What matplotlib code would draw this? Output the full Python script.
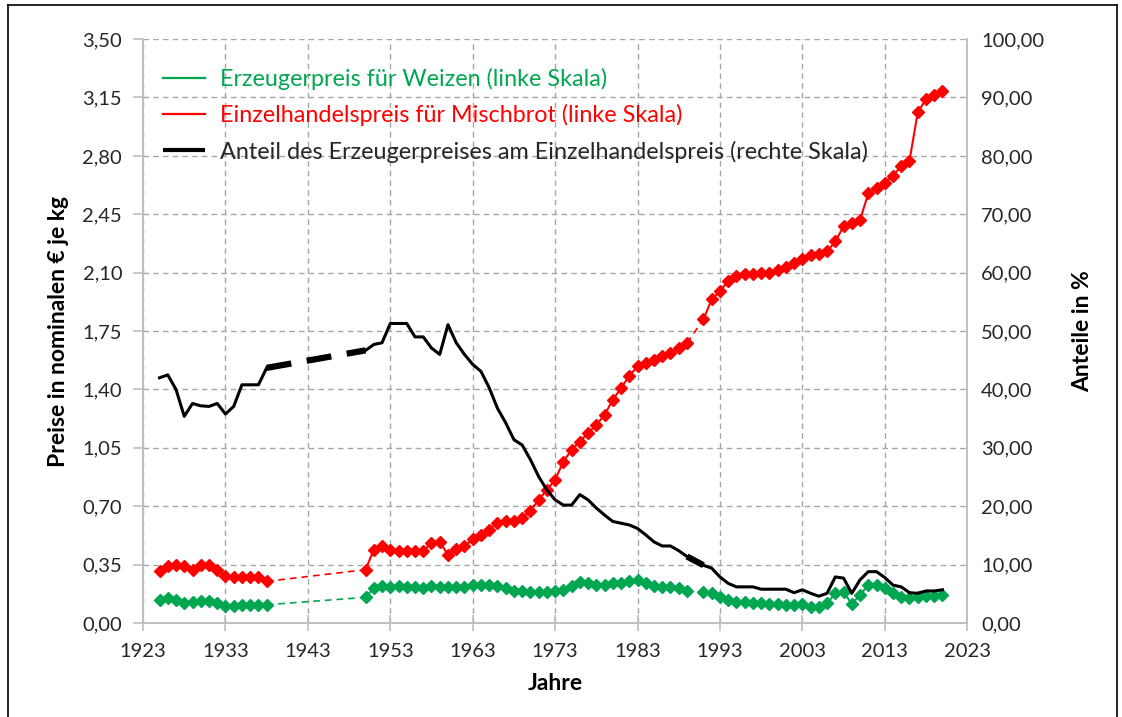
import numpy as np
import matplotlib
matplotlib.use("Agg")
import matplotlib.pyplot as plt
from matplotlib.lines import Line2D
from matplotlib.ticker import FuncFormatter, MultipleLocator

plt.rcParams["font.family"] = ["Lato", "DejaVu Sans"]

nan = np.nan

# =========================
# Data
# =========================
years = np.arange(1925, 2021)

weizen = [
    # 1925-1938
    .14, .15, .14, .12, .125, .13, .13, .12, .10, .105, .11, .11, .11, .11,
    # 1939-1949 (no data)
    nan, nan, nan, nan, nan, nan, nan, nan, nan, nan, nan,
    # 1950-1989
    .154, .21, .22, .218, .22, .218, .218, .21, .22, .218,
    .215, .215, .218, .228, .228, .228, .222, .208, .19, .19,
    .185, .185, .185, .19, .20, .22, .245, .24, .23, .23,
    .238, .24, .255, .258, .24, .222, .215, .215, .208, .19,
    # 1990
    nan,
    # 1991-2020
    .188, .178, .158, .138, .128, .128, .122, .12, .114, .114,
    .108, .108, .114, .098, .095, .118, .178, .188, .114, .168,
    .228, .228, .208, .178, .158, .148, .155, .16, .16, .168,
]

mischbrot = [
    .31, .34, .35, .34, .32, .35, .35, .32, .28, .275, .275, .275, .275, .25,
    nan, nan, nan, nan, nan, nan, nan, nan, nan, nan, nan,
    .32, .44, .46, .435, .434, .434, .434, .434, .478, .488,
    .408, .442, .462, .502, .528, .558, .602, .614, .614, .628,
    .674, .738, .798, .858, .968, 1.038, 1.088, 1.138, 1.188, 1.248,
    1.338, 1.408, 1.482, 1.538, 1.558, 1.578, 1.598, 1.618, 1.648, 1.678,
    nan,
    1.82, 1.94, 1.99, 2.05, 2.08, 2.09, 2.095, 2.10, 2.10, 2.115,
    2.135, 2.157, 2.183, 2.205, 2.21, 2.227, 2.287, 2.377, 2.40, 2.415,
    2.575, 2.61, 2.64, 2.68, 2.74, 2.77, 3.06, 3.14, 3.165, 3.19,
]

anteil = [
    42.0, 42.5, 40.0, 35.4, 37.6, 37.2, 37.1, 37.6, 35.8, 37.1, 40.8, 40.8, 40.8, 43.7,
    nan, nan, nan, nan, nan, nan, nan, nan, nan, nan, nan,
    46.7, 47.7, 48.0, 51.3, 51.3, 51.3, 49.0, 49.0, 47.1, 46.0,
    51.1, 48.0, 46.0, 44.3, 43.1, 40.3, 36.8, 34.3, 31.4, 30.5,
    28.0, 25.1, 22.8, 21.1, 20.2, 20.2, 22.0, 21.1, 19.7, 18.5,
    17.4, 17.1, 16.8, 16.2, 15.1, 13.9, 13.2, 13.2, 12.4, 11.4,
    nan,
    9.9, 9.4, 7.9, 6.8, 6.2, 6.2, 6.2, 5.8, 5.8, 5.8,
    5.8, 5.2, 5.7, 5.1, 4.6, 5.1, 7.9, 7.7, 5.1, 7.4,
    8.8, 8.8, 7.8, 6.5, 6.2, 5.2, 5.1, 5.5, 5.5, 5.7,
]

year_ticks = list(range(1923, 2024, 10))

labels = [
    "Erzeugerpreis für Weizen (linke Skala)",
    "Einzelhandelspreis für Mischbrot (linke Skala)",
    "Anteil des Erzeugerpreises am Einzelhandelspreis (rechte Skala)",
]

GREEN = "#00a650"
RED = "#ff0000"
GRID = "#a6a6a6"


def gap_segments(x, y):
    """pairs of (x0, x1), (y0, y1) bridging runs of missing values"""
    y = np.asarray(y, dtype=float)
    ok = np.where(~np.isnan(y))[0]
    segs = []
    for a, b in zip(ok[:-1], ok[1:]):
        if b - a > 1:
            segs.append(((x[a], x[b]), (y[a], y[b])))
    return segs


def comma_fmt(v, pos):
    return f"{v:.2f}".replace(".", ",")


fig = plt.figure(figsize=(11.22, 7.17), dpi=100)
ax = fig.add_axes([0.1275, 0.131, 0.7345, 0.8145])
ax2 = ax.twinx()

# ---- left scale: prices ----
for vals, col in [(weizen, GREEN), (mischbrot, RED)]:
    ax.plot(years, vals, color=col, lw=1.5, marker="D", ms=6.5,
            mec=col, mfc=col, zorder=3)
    for xs, ys in gap_segments(years, vals):
        ax.plot(xs, ys, color=col, lw=1.2, ls=(0, (4, 3)), zorder=2)

# ---- right scale: share ----
ax2.plot(years, anteil, color="black", lw=2.2, zorder=3)
for xs, ys in gap_segments(years, anteil):
    ax2.plot(xs, ys, color="black", lw=4.5, ls=(0, (4, 2.5)), zorder=3)

ax.set_xlim(1923, 2023)
ax.set_ylim(0, 3.5)
ax2.set_ylim(0, 100)
ax.set_xticks(year_ticks)
ax.yaxis.set_major_locator(MultipleLocator(0.35))
ax2.yaxis.set_major_locator(MultipleLocator(10))
ax.yaxis.set_major_formatter(FuncFormatter(comma_fmt))
ax2.yaxis.set_major_formatter(FuncFormatter(comma_fmt))

ax.grid(True, color=GRID, ls=(0, (4, 3)), lw=1.0)
ax.set_axisbelow(True)

for a in (ax, ax2):
    for s in a.spines.values():
        s.set_color("#bfbfbf")
        s.set_linewidth(1.2)
    a.spines["top"].set_visible(False)
    a.tick_params(colors="#bfbfbf", labelcolor="#262626", labelsize=14.5,
                  length=7, width=1.2)
ax.tick_params(axis="x", pad=8, direction="inout", length=12)
ax.tick_params(axis="y", pad=8)
ax2.tick_params(axis="y", pad=10, length=0)

ax.set_xlabel("Jahre", fontsize=16.5, fontweight="bold", labelpad=10)
ax.set_ylabel("Preise in nominalen € je kg", fontsize=16.5,
              fontweight="bold", labelpad=10)
ax2.set_ylabel("Anteile in %", fontsize=16.5, fontweight="bold",
               rotation=90, labelpad=20)

# ---- legend ----
handles = [
    Line2D([], [], color=GREEN, lw=1.6, ls="-"),
    Line2D([], [], color=RED, lw=1.6, ls="-"),
    Line2D([], [], color="black", lw=3.0, ls="-", solid_capstyle="butt"),
]
leg = ax.legend(handles, labels, loc="upper left", frameon=False,
                bbox_to_anchor=(0.024, 0.950), borderpad=0, borderaxespad=0,
                fontsize=16.8, handlelength=1.8, handletextpad=0.65,
                labelspacing=0.6, labelcolor=[GREEN, RED, "#262626"])
leg.set_zorder(10)

# ---- outer frame ----
fig.add_artist(Line2D([0.0075, 0.0075], [0, 0.993], color="black", lw=1.2,
                      transform=fig.transFigure))
fig.add_artist(Line2D([0.0075, 0.9955], [0.993, 0.993], color="black", lw=1.2,
                      transform=fig.transFigure))
fig.add_artist(Line2D([0.9955, 0.9955], [0, 0.993], color="black", lw=1.2,
                      transform=fig.transFigure))

fig.savefig("out.png", dpi=100)
